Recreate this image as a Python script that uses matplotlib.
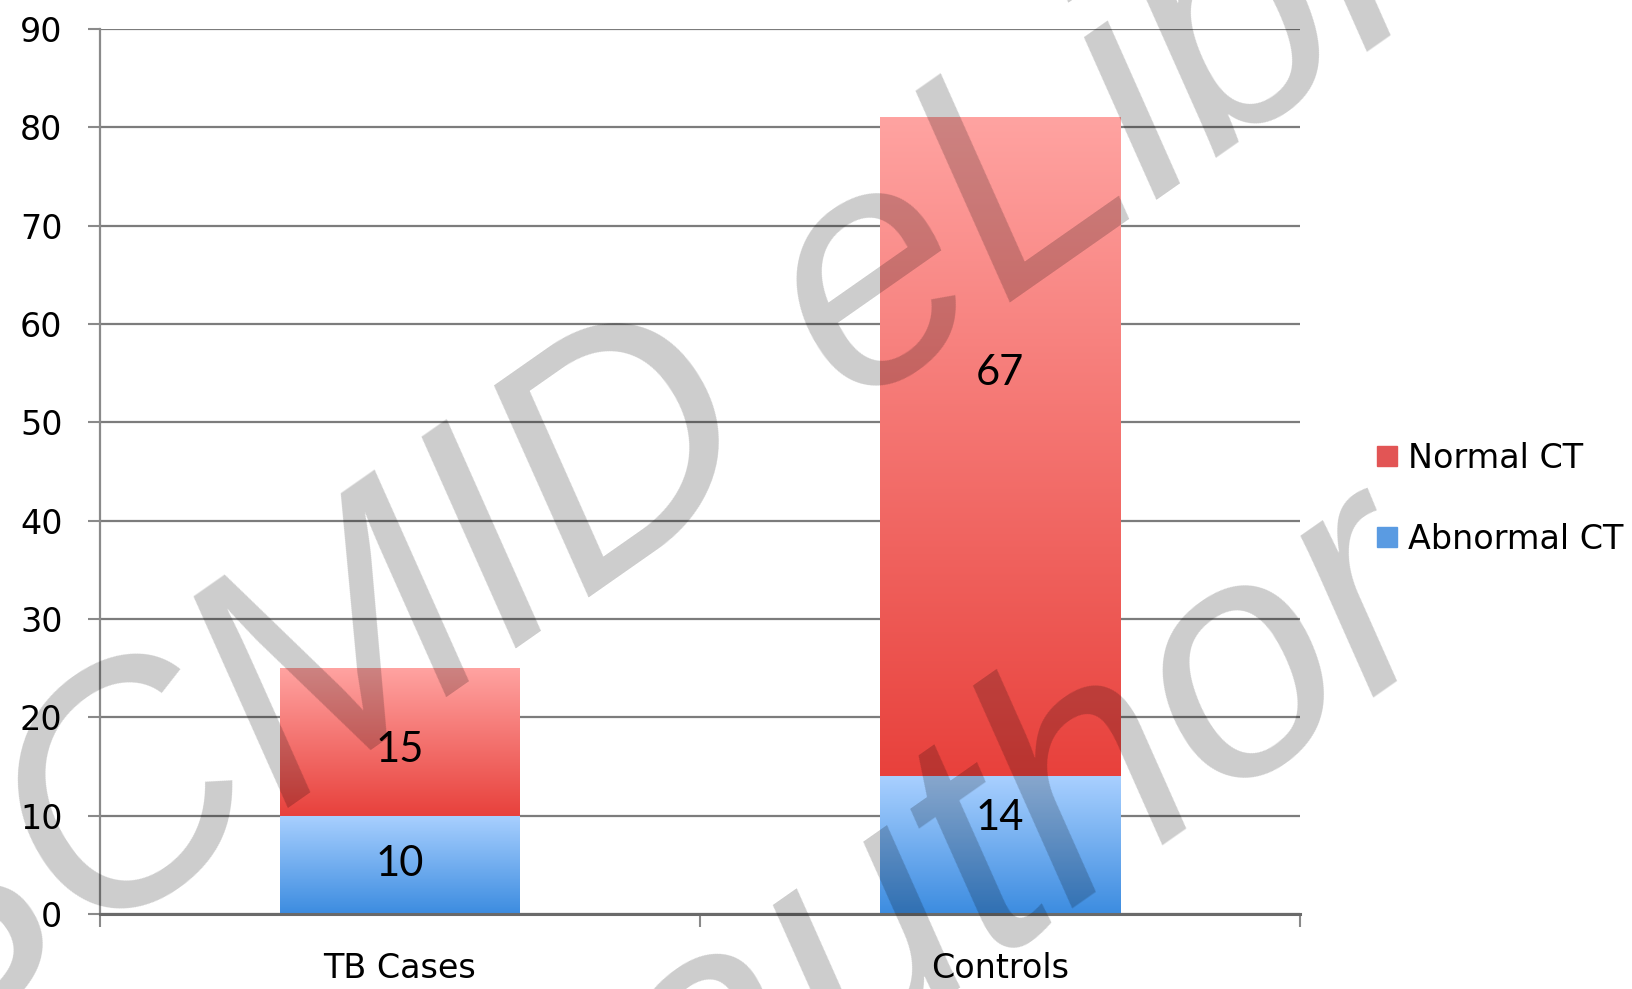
import matplotlib.pyplot as plt
import numpy as np
from matplotlib.colors import to_rgb
from matplotlib.lines import Line2D

categories = ['TB Cases', 'Controls']
abnormal_ct = [10, 14]
normal_ct = [15, 67]
# heights at which the value labels sit in the original chart
abnormal_label_y = [5.1, 9.8]
normal_label_y = [16.7, 55.0]
yticks = list(range(0, 100, 10))

red_top, red_bottom = '#ffa3a1', '#e8413c'
blue_top, blue_bottom = '#a9d0ff', '#3c8ce0'


def gradient_fill(ax, bars, top, bottom):
    # vertical gradient laid over each bar rectangle
    t = np.linspace(0, 1, 256)[:, None]
    c0, c1 = np.array(to_rgb(top)), np.array(to_rgb(bottom))
    img = (c0 * (1 - t) + c1 * t)[:, None, :]
    for b in bars:
        x0, y0 = b.get_x(), b.get_y()
        ax.imshow(img, extent=[x0, x0 + b.get_width(), y0, y0 + b.get_height()],
                  aspect='auto', origin='upper', zorder=2, interpolation='bilinear')


fig = plt.figure(figsize=(16.33, 9.89), dpi=100)
ax = fig.add_axes([100 / 1633, 1 - 914 / 989, 1200 / 1633, 885 / 989])

x = np.arange(len(categories))
b_abn = ax.bar(x, abnormal_ct, width=0.4, color='none', edgecolor='none')
b_norm = ax.bar(x, normal_ct, bottom=abnormal_ct, width=0.4, color='none', edgecolor='none')
gradient_fill(ax, b_abn, blue_top, blue_bottom)
gradient_fill(ax, b_norm, red_top, red_bottom)

for i in range(len(categories)):
    ax.text(x[i], abnormal_label_y[i], str(abnormal_ct[i]), ha='center', va='center',
            fontsize=30, family='Lato', zorder=5)
    ax.text(x[i], normal_label_y[i], str(normal_ct[i]), ha='center', va='center',
            fontsize=30, family='Lato', zorder=5)

ax.set_xlim(-0.5, 1.5)
ax.set_ylim(0, 90)
ax.set_yticks(yticks)
ax.yaxis.grid(True, color='#7c7c7c', linewidth=1.6)
ax.set_axisbelow(True)

ax.set_xticks(x)
ax.set_xticklabels(categories)
ax.set_xticks([-0.5, 0.5, 1.5], minor=True)
ax.tick_params(axis='x', which='major', length=0, pad=27, labelsize=24)
ax.tick_params(axis='x', which='minor', length=9, width=1.5, color='#8a8a8a')
ax.tick_params(axis='y', length=9, width=1.5, color='#8a8a8a', pad=18, labelsize=24)

for s in ['top', 'right']:
    ax.spines[s].set_visible(False)
ax.spines['left'].set_color('#8a8a8a')
ax.spines['left'].set_linewidth(1.6)
ax.spines['bottom'].set_color('#6a6a6a')
ax.spines['bottom'].set_linewidth(2.2)

handles = [Line2D([], [], marker='s', ls='none', color='#e25555', markersize=14, label='Normal CT'),
           Line2D([], [], marker='s', ls='none', color='#5a9be2', markersize=14, label='Abnormal CT')]
fig.legend(handles=handles, loc='center left', bbox_to_anchor=(0.843, 0.4955),
           frameon=False, fontsize=24, handlelength=0.6, handletextpad=0.35,
           labelspacing=1.45, borderpad=0, borderaxespad=0)

# watermark
wm = dict(rotation=35, rotation_mode='anchor', ha='center', va='center', fontsize=238,
          fontstyle='italic', family='Liberation Sans', color='black', alpha=0.2, zorder=10)
fig.text(727 / 1633, 1 - 396 / 989, 'ESCMID eLibrary', **wm)
fig.text(709 / 1633, 1 - 1059 / 989, '\u00a9 by author', **wm)

fig.savefig('out.png', dpi=100)
